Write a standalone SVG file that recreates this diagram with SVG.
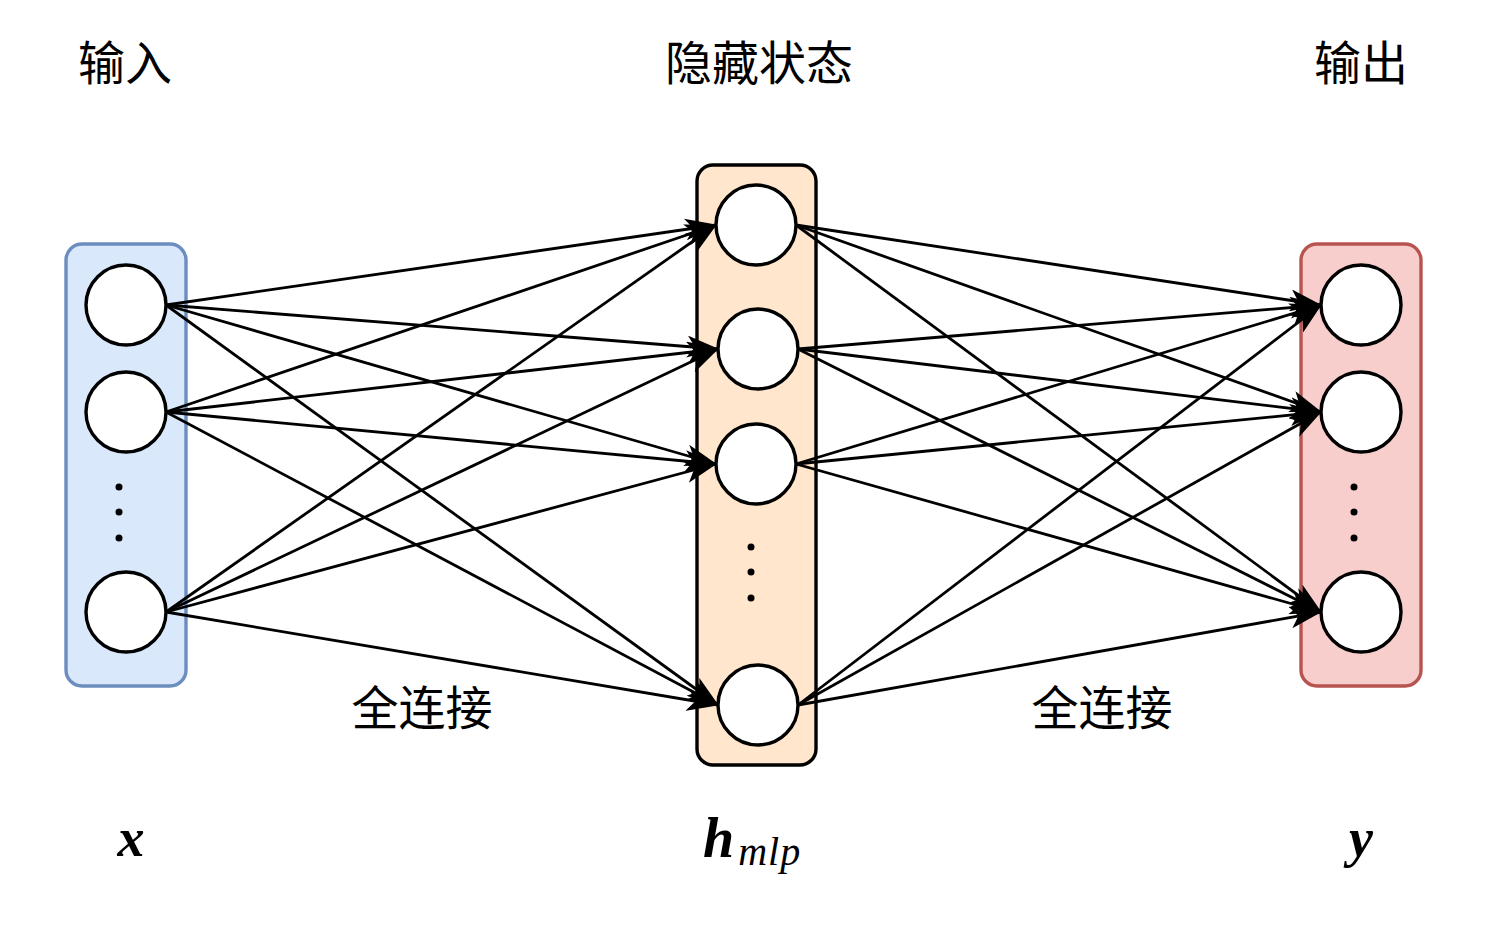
<svg xmlns="http://www.w3.org/2000/svg" width="1500" height="928" viewBox="0 0 1500 928">
<style>
.cjk{font-family:"Noto Sans CJK SC","Noto Sans",sans-serif;font-size:47px;fill:#000;text-anchor:middle}
.math{font-family:"Liberation Serif",serif;font-style:italic;fill:#000}
.node{fill:#fff;stroke:#000;stroke-width:3.4}
.edge{stroke:#000;stroke-width:2.8;fill:none;marker-end:url(#arr)}
.dot{fill:#000}
</style>
<defs>
<marker id="arr" viewBox="0 0 32 22" refX="31" refY="11" markerWidth="32" markerHeight="22" markerUnits="userSpaceOnUse" orient="auto">
<path d="M0,0 L32,11 L0,22 L8,11 Z" fill="#000"/>
</marker>
</defs>
<rect width="1500" height="928" fill="#fff"/>
<g id="input-layer">
<rect x="66" y="244" width="120" height="442" rx="16" fill="#dae8fc" stroke="#6c8ebf" stroke-width="3.4"/>
<circle class="node" cx="126" cy="305" r="40"/>
<circle class="node" cx="126" cy="412" r="40"/>
<circle class="node" cx="126" cy="612" r="40"/>
<circle class="dot" cx="119" cy="487" r="3.5"/><circle class="dot" cx="119" cy="512" r="3.5"/><circle class="dot" cx="119" cy="538" r="3.5"/>
</g>
<g id="hidden-layer">
<rect x="697" y="165" width="119" height="600" rx="16" fill="#ffe6cc" stroke="#000" stroke-width="3.4"/>
<circle class="node" cx="756" cy="225" r="40"/>
<circle class="node" cx="758" cy="349" r="40"/>
<circle class="node" cx="756" cy="464" r="40"/>
<circle class="node" cx="758" cy="705" r="40"/>
<circle class="dot" cx="751" cy="547" r="3.5"/><circle class="dot" cx="751" cy="572" r="3.5"/><circle class="dot" cx="751" cy="598" r="3.5"/>
</g>
<g id="output-layer">
<rect x="1301" y="244" width="120" height="442" rx="16" fill="#f8cecc" stroke="#b85450" stroke-width="3.4"/>
<circle class="node" cx="1361" cy="305" r="40"/>
<circle class="node" cx="1361" cy="412" r="40"/>
<circle class="node" cx="1361" cy="612" r="40"/>
<circle class="dot" cx="1354" cy="487" r="3.5"/><circle class="dot" cx="1354" cy="512" r="3.5"/><circle class="dot" cx="1354" cy="538" r="3.5"/>
</g>
<g id="connectors">
<line class="edge" x1="166" y1="305" x2="716" y2="225"/>
<line class="edge" x1="166" y1="305" x2="718" y2="349"/>
<line class="edge" x1="166" y1="305" x2="716" y2="464"/>
<line class="edge" x1="166" y1="305" x2="718" y2="705"/>
<line class="edge" x1="166" y1="412" x2="716" y2="225"/>
<line class="edge" x1="166" y1="412" x2="718" y2="349"/>
<line class="edge" x1="166" y1="412" x2="716" y2="464"/>
<line class="edge" x1="166" y1="412" x2="718" y2="705"/>
<line class="edge" x1="166" y1="612" x2="716" y2="225"/>
<line class="edge" x1="166" y1="612" x2="718" y2="349"/>
<line class="edge" x1="166" y1="612" x2="716" y2="464"/>
<line class="edge" x1="166" y1="612" x2="718" y2="705"/>
<line class="edge" x1="796" y1="225" x2="1321" y2="305"/>
<line class="edge" x1="796" y1="225" x2="1321" y2="412"/>
<line class="edge" x1="796" y1="225" x2="1321" y2="612"/>
<line class="edge" x1="798" y1="349" x2="1321" y2="305"/>
<line class="edge" x1="798" y1="349" x2="1321" y2="412"/>
<line class="edge" x1="798" y1="349" x2="1321" y2="612"/>
<line class="edge" x1="796" y1="464" x2="1321" y2="305"/>
<line class="edge" x1="796" y1="464" x2="1321" y2="412"/>
<line class="edge" x1="796" y1="464" x2="1321" y2="612"/>
<line class="edge" x1="798" y1="705" x2="1321" y2="305"/>
<line class="edge" x1="798" y1="705" x2="1321" y2="412"/>
<line class="edge" x1="798" y1="705" x2="1321" y2="612"/>
</g>
<g id="labels">
<text class="cjk" x="125" y="80">输入</text>
<text class="cjk" x="759" y="80">隐藏状态</text>
<text class="cjk" x="1361" y="80">输出</text>
<text class="cjk" x="422" y="725">全连接</text>
<text class="cjk" x="1102" y="725">全连接</text>
<text class="math" x="131" y="856" font-size="54" font-weight="bold" text-anchor="middle">x</text>
<text class="math" x="703" y="857" font-size="56" font-weight="bold">h<tspan font-size="40" font-weight="normal" dx="4" dy="8" letter-spacing="1">mlp</tspan></text>
<text class="math" x="1361" y="856" font-size="54" font-weight="bold" text-anchor="middle">y</text>
</g>
</svg>
